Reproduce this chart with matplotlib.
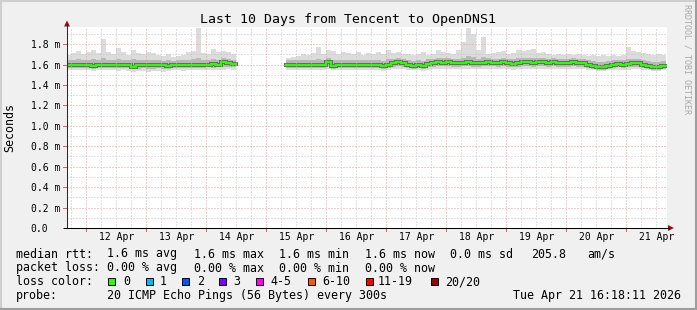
import datetime as dt
import numpy as np
import matplotlib
matplotlib.use("Agg")
import matplotlib.pyplot as plt
import matplotlib.dates as mdates
from matplotlib.patches import Rectangle, Polygon
from matplotlib.lines import Line2D
from matplotlib.transforms import blended_transform_factory

# ---------------- data (values in milliseconds, 2-hour bins) ----------------
title = "Last 10 Days from Tencent to OpenDNS1"
seg1_start = dt.datetime(2026, 4, 11, 16, 0)
seg2_start = dt.datetime(2026, 4, 15, 8, 0)

med1 = [1.600, 1.600, 1.595, 1.600, 1.600, 1.585, 1.595, 1.600, 1.600, 1.595,
        1.600, 1.600, 1.595, 1.575, 1.595, 1.600, 1.600, 1.595, 1.600, 1.600,
        1.585, 1.595, 1.600, 1.600, 1.595, 1.600, 1.600, 1.600, 1.600, 1.605,
        1.600, 1.625, 1.610, 1.605]
max1 = [1.69, 1.71, 1.73, 1.70, 1.72, 1.74, 1.71, 1.85, 1.72, 1.70,
        1.76, 1.72, 1.69, 1.74, 1.71, 1.70, 1.72, 1.71, 1.69, 1.68,
        1.70, 1.67, 1.68, 1.69, 1.72, 1.73, 1.96, 1.71, 1.70, 1.75,
        1.72, 1.73, 1.72, 1.70]
min1 = [1.550, 1.545, 1.545, 1.550, 1.545, 1.540, 1.545, 1.550, 1.545, 1.545,
        1.540, 1.545, 1.540, 1.530, 1.535, 1.540, 1.530, 1.535, 1.540, 1.530,
        1.535, 1.545, 1.545, 1.540, 1.545, 1.550, 1.545, 1.545, 1.550, 1.545,
        1.550, 1.550, 1.555, 1.550]
qhi1 = [1.640, 1.645, 1.650, 1.640, 1.645, 1.650, 1.645, 1.660, 1.645, 1.640,
        1.655, 1.645, 1.640, 1.650, 1.645, 1.640, 1.645, 1.645, 1.640, 1.635,
        1.640, 1.635, 1.640, 1.640, 1.645, 1.650, 1.665, 1.645, 1.640, 1.650,
        1.645, 1.660, 1.650, 1.645]
qlo1 = [1.570, 1.570, 1.565, 1.570, 1.570, 1.560, 1.565, 1.570, 1.570, 1.565,
        1.565, 1.570, 1.565, 1.555, 1.560, 1.565, 1.560, 1.560, 1.565, 1.560,
        1.560, 1.565, 1.570, 1.565, 1.570, 1.570, 1.570, 1.570, 1.575, 1.570,
        1.575, 1.580, 1.580, 1.575]

med2 = [1.600, 1.600, 1.600, 1.595, 1.600, 1.600, 1.600, 1.600, 1.620, 1.590,
        1.600, 1.600, 1.595, 1.600, 1.600, 1.600, 1.600, 1.595, 1.600, 1.585,
        1.600, 1.610, 1.620, 1.610, 1.600, 1.590, 1.595, 1.585, 1.605, 1.610,
        1.620, 1.615, 1.620, 1.615, 1.610, 1.615, 1.620, 1.615, 1.610, 1.615,
        1.620, 1.615, 1.610, 1.620, 1.615, 1.605, 1.615, 1.620, 1.620, 1.615,
        1.620, 1.620, 1.615, 1.620, 1.615, 1.610, 1.615, 1.620, 1.615, 1.610,
        1.600, 1.590, 1.580, 1.580, 1.590, 1.600, 1.605, 1.600, 1.605, 1.615,
        1.615, 1.600, 1.590, 1.580, 1.580, 1.585]
max2 = [1.66, 1.67, 1.68, 1.70, 1.69, 1.71, 1.77, 1.70, 1.74, 1.73,
        1.70, 1.72, 1.71, 1.70, 1.72, 1.69, 1.71, 1.70, 1.72, 1.70,
        1.74, 1.71, 1.72, 1.70, 1.70, 1.69, 1.70, 1.72, 1.69, 1.70,
        1.74, 1.72, 1.71, 1.70, 1.74, 1.82, 1.96, 1.90, 1.74, 1.87,
        1.70, 1.71, 1.72, 1.73, 1.70, 1.71, 1.74, 1.73, 1.74, 1.75,
        1.71, 1.72, 1.70, 1.69, 1.70, 1.69, 1.70, 1.69, 1.70, 1.69,
        1.68, 1.69, 1.68, 1.69, 1.68, 1.69, 1.68, 1.69, 1.77, 1.73,
        1.72, 1.71, 1.70, 1.69, 1.70, 1.69]
min2 = [1.550, 1.550, 1.545, 1.550, 1.545, 1.550, 1.545, 1.550, 1.560, 1.545,
        1.550, 1.545, 1.550, 1.545, 1.550, 1.550, 1.545, 1.550, 1.545, 1.540,
        1.550, 1.555, 1.560, 1.555, 1.550, 1.545, 1.545, 1.540, 1.550, 1.555,
        1.560, 1.560, 1.560, 1.555, 1.555, 1.560, 1.560, 1.560, 1.555, 1.560,
        1.560, 1.560, 1.555, 1.560, 1.560, 1.550, 1.560, 1.560, 1.560, 1.560,
        1.560, 1.560, 1.560, 1.560, 1.560, 1.555, 1.560, 1.560, 1.560, 1.555,
        1.550, 1.545, 1.540, 1.540, 1.545, 1.550, 1.550, 1.550, 1.550, 1.555,
        1.555, 1.550, 1.545, 1.540, 1.540, 1.545]
qhi2 = [1.640, 1.645, 1.645, 1.640, 1.645, 1.645, 1.655, 1.645, 1.660, 1.640,
        1.645, 1.645, 1.640, 1.645, 1.645, 1.640, 1.645, 1.640, 1.645, 1.635,
        1.650, 1.655, 1.660, 1.655, 1.645, 1.635, 1.640, 1.635, 1.650, 1.655,
        1.665, 1.660, 1.660, 1.655, 1.655, 1.665, 1.680, 1.675, 1.655, 1.670,
        1.660, 1.655, 1.655, 1.660, 1.655, 1.650, 1.660, 1.660, 1.665, 1.665,
        1.660, 1.660, 1.655, 1.660, 1.655, 1.650, 1.655, 1.660, 1.655, 1.650,
        1.640, 1.635, 1.625, 1.625, 1.635, 1.640, 1.645, 1.640, 1.655, 1.655,
        1.655, 1.645, 1.635, 1.625, 1.625, 1.630]
qlo2 = [1.570, 1.570, 1.570, 1.565, 1.570, 1.570, 1.570, 1.570, 1.585, 1.560,
        1.570, 1.570, 1.565, 1.570, 1.570, 1.570, 1.570, 1.565, 1.570, 1.555,
        1.570, 1.580, 1.585, 1.580, 1.570, 1.560, 1.565, 1.555, 1.575, 1.580,
        1.585, 1.585, 1.585, 1.580, 1.580, 1.585, 1.585, 1.580, 1.580, 1.585,
        1.585, 1.585, 1.580, 1.585, 1.580, 1.575, 1.580, 1.585, 1.585, 1.580,
        1.585, 1.585, 1.580, 1.585, 1.580, 1.575, 1.580, 1.585, 1.580, 1.575,
        1.570, 1.560, 1.550, 1.550, 1.560, 1.570, 1.575, 1.570, 1.575, 1.580,
        1.580, 1.570, 1.560, 1.550, 1.550, 1.555]

y_ticks = [0.0, 0.2, 0.4, 0.6, 0.8, 1.0, 1.2, 1.4, 1.6, 1.8]
y_ticklabels = ["0.0", "0.2 m", "0.4 m", "0.6 m", "0.8 m", "1.0 m",
                "1.2 m", "1.4 m", "1.6 m", "1.8 m"]
x_ticklabels = ["12 Apr", "13 Apr", "14 Apr", "15 Apr", "16 Apr",
                "17 Apr", "18 Apr", "19 Apr", "20 Apr", "21 Apr"]

legend_rows = [
    ["median rtt:", "1.6 ms avg", "1.6 ms max", "1.6 ms min", "1.6 ms now",
     "0.0 ms sd", "205.8", "am/s"],
    ["packet loss:", "0.00 % avg", "0.00 % max", "0.00 % min", "0.00 % now"],
]
loss_labels = ["0", "1", "2", "3", "4-5", "6-10", "11-19", "20/20"]
loss_colors = ["#26ff00", "#00b8ff", "#0059ff", "#7e00ff", "#ff00ff",
               "#ff5500", "#ff0000", "#a10000"]
probe_text = "20 ICMP Echo Pings (56 Bytes) every 300s"
stamp_text = "Tue Apr 21 16:18:11 2026"

# ---------------- layout ----------------
W, H = 697, 310
FONT = "DejaVu Sans Mono"
fig = plt.figure(figsize=(W / 100, H / 100), dpi=100)
fig.patch.set_facecolor("#f0f0f0")


def fx(x):
    return x / W


def fy(y):
    return 1 - y / H


ax = fig.add_axes([fx(67), fy(228), fx(667) - fx(67), fy(27) - fy(228)])
ax.set_facecolor("white")
t_start = dt.datetime(2026, 4, 11, 16, 18, 11)
t_end = dt.datetime(2026, 4, 21, 16, 18, 11)
ax.set_xlim(mdates.date2num(t_start), mdates.date2num(t_end))
ax.set_ylim(0, 1.967)
for s in ax.spines.values():
    s.set_visible(False)
ax.set_xticks([])
ax.set_yticks([])

step = dt.timedelta(hours=2)


def step_xy(t0, vals):
    n = len(vals)
    edges = mdates.date2num([t0 + i * step for i in range(n + 1)])
    xs = np.repeat(edges, 2)[1:-1]
    ys = np.repeat(np.asarray(vals, float), 2)
    return xs, ys


for t0, med, mn, mx, ql, qh in [(seg1_start, med1, min1, max1, qlo1, qhi1),
                                (seg2_start, med2, min2, max2, qlo2, qhi2)]:
    xs, ymn = step_xy(t0, mn)
    _, ymx = step_xy(t0, mx)
    _, yql = step_xy(t0, ql)
    _, yqh = step_xy(t0, qh)
    _, ymd = step_xy(t0, med)
    ax.fill_between(xs, ymn, ymx, color="#dcdcdc", lw=0, zorder=1)
    ax.fill_between(xs, yql, yqh, color="#b8b8b8", lw=0, zorder=1.1)
    ax.plot(xs, ymd, color="#6a6a6a", lw=2.9, zorder=1.2,
            solid_joinstyle="miter")
    ax.plot(xs, ymd, color=loss_colors[0], lw=1.5, zorder=3,
            solid_joinstyle="miter")

# grid
dots = (0, (1, 2))
for k in range(1, 20):
    v = k / 10
    major = (k % 2 == 0)
    ax.axhline(v, color="#e89a9a" if major else "#c4c4c4", lw=0.72,
               ls=dots, zorder=2)
gt = dt.datetime(2026, 4, 11, 18, 0)
while gt < t_end:
    major = gt.hour == 0
    ax.axvline(mdates.date2num(gt), color="#e89a9a" if major else "#c4c4c4",
               lw=0.72, ls=dots, zorder=2)
    gt += dt.timedelta(hours=6)

# y labels
ytr = blended_transform_factory(fig.transFigure, ax.transData)
for v, lab in zip(y_ticks, y_ticklabels):
    ax.text(fx(30.5), v, lab, transform=ytr, ha="left", va="center_baseline",
            fontsize=7, family=FONT, color="#000000")
# small tick extensions
for v in y_ticks:
    ax.plot([-0.006, 0], [v, v], transform=blended_transform_factory(ax.transAxes, ax.transData),
            color="#e06060", lw=0.72, clip_on=False, zorder=4)

# x labels at noon
xtr = blended_transform_factory(ax.transData, fig.transFigure)
for i, lab in enumerate(x_ticklabels):
    t = dt.datetime(2026, 4, 12 + i, 12, 0)
    ax.text(mdates.date2num(t), fy(240), lab, transform=xtr, ha="center",
            va="baseline", fontsize=7, family=FONT)
    tm = dt.datetime(2026, 4, 12 + i, 0, 0)
    ax.plot([mdates.date2num(tm)] * 2, [fy(228), fy(231)], transform=xtr,
            color="#e06060", lw=0.72, clip_on=False, zorder=4)

# axes lines and arrows
fig.add_artist(Line2D([fx(67), fx(67)], [fy(228), fy(24)], color="#2a2a2a", lw=0.75))
fig.add_artist(Line2D([fx(64), fx(669)], [fy(228), fy(228)], color="#000000", lw=0.75))
arrow_c = "#9b1010"
fig.add_artist(Polygon([(fx(64), fy(26.5)), (fx(70), fy(26.5)), (fx(67), fy(20.5))],
                       closed=True, color=arrow_c, lw=0))
fig.add_artist(Polygon([(fx(668), fy(225)), (fx(668), fy(231)), (fx(674), fy(228))],
                       closed=True, color=arrow_c, lw=0))

# title
fig.text(fx(347.5), fy(23.3), title, ha="center", va="baseline",
         fontsize=9.5, family=FONT)
# y axis label
fig.text(fx(10), fy(127.5), "Seconds", rotation=90, ha="center", va="center",
         fontsize=8.4, family=FONT)
# watermark
fig.text(fx(687), fy(4), "RRDTOOL / TOBI OETIKER", rotation=270, ha="center",
         va="top", fontsize=6, family=FONT, color="#a8a8a8")

# legend rows
row_x = [16, 107, 194, 279, 365, 450, 531, 587]
row_base = [257.5, 271.5, 285.3, 299.3]
for r, row in enumerate(legend_rows):
    for x, s in zip(row_x, row):
        fig.text(fx(x), fy(row_base[r]), s, ha="left", va="baseline",
                 fontsize=8.4, family=FONT)
fig.text(fx(16), fy(row_base[2]), "loss color:", ha="left", va="baseline",
         fontsize=8.4, family=FONT)
box_x = [108, 146, 182, 219, 256, 308, 366, 431]
lab_x = [123, 160, 197, 233, 270, 322, 378, 445]
for bx, lx, c, lab in zip(box_x, lab_x, loss_colors, loss_labels):
    fig.add_artist(Rectangle((fx(bx), fy(284.5)), 7 / W, 7 / H,
                             transform=fig.transFigure, facecolor=c,
                             edgecolor="#000000", lw=0.7))
    fig.text(fx(lx), fy(row_base[2]), lab, ha="left", va="baseline",
             fontsize=8.4, family=FONT)
fig.text(fx(16), fy(row_base[3]), "probe:", ha="left", va="baseline",
         fontsize=8.4, family=FONT)
fig.text(fx(107), fy(row_base[3]), probe_text, ha="left", va="baseline",
         fontsize=8.4, family=FONT)
fig.text(fx(681), fy(row_base[3]), stamp_text, ha="right", va="baseline",
         fontsize=8.4, family=FONT)

# 3D border
fig.add_artist(Line2D([fx(0.5), fx(696)], [fy(0.5), fy(0.5)], color="#cfcfcf", lw=1.5))
fig.add_artist(Line2D([fx(0.5), fx(0.5)], [fy(0.5), fy(309.5)], color="#cfcfcf", lw=1.5))
fig.add_artist(Line2D([fx(0), fx(697)], [fy(309), fy(309)], color="#9e9e9e", lw=1.5))
fig.add_artist(Line2D([fx(696), fx(696)], [fy(0), fy(310)], color="#9e9e9e", lw=1.5))

fig.savefig("out.png", dpi=100, facecolor=fig.get_facecolor())
